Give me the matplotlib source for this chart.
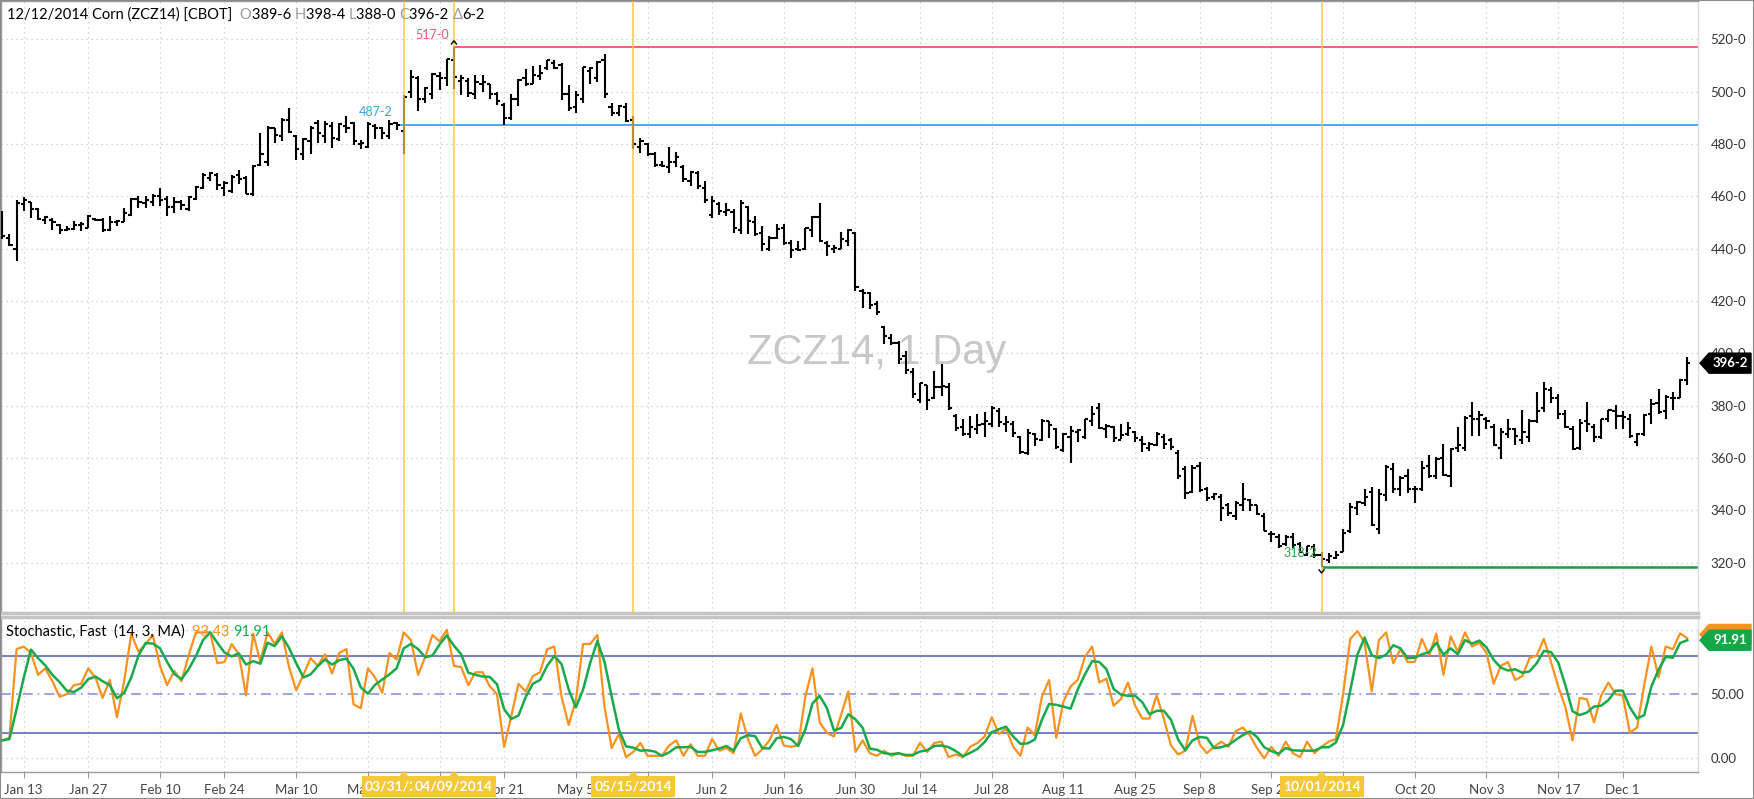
import numpy as np
import pandas as pd
import matplotlib
matplotlib.use('Agg')
import matplotlib.pyplot as plt
from matplotlib.patches import Polygon, Rectangle
from matplotlib.transforms import IdentityTransform

plt.rcParams['font.family'] = ['Lato', 'DejaVu Sans']

# ---------------- data ----------------
START, END = '2014-01-08', '2014-12-12'
HOLIDAYS = ['2014-01-20', '2014-02-17', '2014-04-18', '2014-05-26',
            '2014-07-04', '2014-09-01', '2014-11-27']

opens = [
    452, 444, 440, 457, 458, 455, 451, 451, 449, 447,
    447.5, 449, 448, 451.5, 451, 447, 450, 450, 453, 459,
    457.5, 458, 460, 459, 456, 458, 455, 459, 463, 467,
    468, 463, 462, 468, 467, 461, 472, 473, 486, 483,
    489, 483, 476, 481, 488, 483, 487, 482, 487, 488,
    480, 479, 487, 486, 483, 488, 485, 500, 505, 497,
    499, 506, 505, 512, 504, 504, 499, 503, 503, 499,
    495, 490, 497, 505, 503, 506, 509, 511, 510, 499,
    494, 497, 508, 505, 512, 494, 492, 494, 489, 479,
    480, 476, 472, 471, 473, 471, 466, 469, 463, 453,
    457, 454, 454, 447, 456, 450, 446, 440, 444, 448,
    442, 440, 440, 447, 452, 442, 440, 440, 443, 446,
    424, 423, 419, 410, 406, 404, 399, 393, 382, 388,
    383, 387, 387, 376, 372, 369, 371, 373, 373, 378,
    373, 373, 368, 362, 369, 367, 374, 371, 363, 368,
    370, 368, 374, 379, 371, 372, 367, 369, 370, 367,
    364, 365, 368, 367, 362, 356, 347, 357, 348, 345,
    345, 342, 338, 342, 344, 342, 338, 331, 330, 327,
    330, 327, 323, 326, 323, 321, 322, 324, 332, 341,
    343, 347, 333, 346, 356, 348, 353, 348, 348, 357,
    353, 360, 353, 364, 364, 376, 375, 375, 372, 364,
    369, 371, 367, 368, 374, 379, 386, 383, 377, 371,
    364, 374, 372, 368, 375, 378, 376, 375, 366, 369,
    377, 381, 378, 383, 383, 389.75]

highs = [
    454.25, 445.5, 458.75, 459.75, 458, 455.5, 452.5, 451.75, 449.25, 448.5,
    450.5, 450, 453, 451.75, 451.75, 452.5, 451, 455.5, 459.5, 460,
    460, 460.75, 463.25, 460, 459.75, 458.75, 460, 463.75, 468.75, 469.25,
    469, 465.75, 468.25, 470, 467.75, 472, 484, 487, 486, 490,
    493.75, 483.5, 482.25, 486.75, 489.25, 488.75, 488.25, 488, 490.5, 488.5,
    481.5, 488.25, 487.5, 486.5, 489, 488.5, 498.5, 508.25, 506, 501.75,
    507, 507.5, 512.5, 517, 506.5, 505, 506.25, 506.25, 503, 500,
    495.75, 499, 504.75, 508.75, 509.75, 510.25, 512.25, 512, 511, 502.5,
    500.25, 509.5, 509.5, 511.5, 514.5, 495.75, 494.75, 495.75, 490.75, 482.25,
    480.25, 477, 473.5, 479, 477, 472, 469.5, 469.5, 465.75, 460,
    458, 457.5, 455, 458.75, 456.25, 452.5, 448.5, 444.75, 449.25, 449.25,
    443.25, 442.75, 448, 452.5, 457.25, 442.75, 441.5, 446.5, 447.5, 446.5,
    424.5, 423.5, 420, 410.5, 407.25, 404.75, 400.75, 394.5, 388.75, 388,
    393.25, 395.75, 388.75, 376.75, 375, 376, 377, 377.5, 380, 379,
    376, 374, 368.5, 371.25, 369.5, 374.75, 374.25, 371.5, 369.5, 372.25,
    371, 374.75, 380, 381, 373, 372.25, 373, 373.75, 370.5, 368.25,
    366, 370, 369, 367.75, 363, 357, 357.5, 358.5, 348.75, 346.75,
    346.25, 343, 343.5, 350.5, 344.5, 342, 339, 332.25, 331, 330.5,
    331.25, 327.75, 326.5, 327, 324, 323.75, 324.5, 333, 343, 343.5,
    348, 348.75, 348, 357.5, 358.25, 353.25, 355.75, 349.5, 359, 361,
    360.25, 365.25, 364, 372, 376, 381.25, 378, 375.5, 373, 371.5,
    374.75, 371.5, 378.5, 374.75, 385.25, 389, 387.25, 384.5, 378.5, 372.25,
    374.75, 381.5, 373, 375, 378.5, 380.25, 378, 376.75, 369.5, 376.75,
    382.5, 386.25, 384, 385.25, 390.25, 398.5]

lows = [
    443.5, 441, 435.25, 454.25, 451.75, 451, 449.25, 447.25, 445.5, 446.75,
    447.25, 446.75, 448, 450.5, 446.25, 446.75, 448.5, 450, 452.5, 455.5,
    455.5, 456.25, 456.25, 452.5, 453.75, 454.75, 454.25, 458.75, 462.75, 465.75,
    462.25, 460, 461.25, 464.5, 460.75, 460.25, 471.75, 471.5, 480.5, 481,
    484.25, 474, 474, 476, 480.5, 480.5, 478.5, 481, 484.25, 479.5,
    478, 478.5, 482, 481.75, 482, 485.25, 476, 497.5, 492.5, 495.5,
    497, 500.5, 502.25, 501, 498.5, 498, 497, 500, 497, 494.75,
    487.25, 489, 494.5, 502.25, 502.75, 504.25, 508.25, 508.75, 496.75, 492.5,
    492, 495.75, 503, 503.75, 497.5, 490.5, 490.75, 488.5, 478.25, 476.5,
    475.5, 471.25, 471, 468.75, 471.25, 465.5, 463.75, 462.75, 457.5, 451.75,
    453, 452.5, 446, 445.5, 445.5, 444.75, 439, 439, 443.5, 441.5,
    436.5, 439, 439.5, 444.5, 442.5, 437, 438.5, 440, 441, 423.75,
    417.5, 417, 414.75, 403.5, 403, 395.75, 392.25, 383, 381, 378.5,
    382.5, 383.75, 378.5, 370.5, 368.5, 367.5, 369, 368, 372, 372,
    370, 368, 361.5, 361, 364.5, 366.5, 367.5, 363.5, 362.25, 358.25,
    366, 367.25, 372.25, 371.25, 367.5, 366.25, 367.25, 368.25, 366, 362.25,
    362.75, 364.5, 363.5, 363, 352, 344.25, 346.75, 347, 343.5, 344,
    336, 338, 336.5, 339.75, 339.75, 338.25, 332.25, 327.75, 325.75, 326.5,
    325.5, 323.75, 322.5, 322, 318.25, 320, 321.5, 324, 331.25, 338.25,
    341.75, 334, 331, 343.5, 346.75, 345.5, 346.75, 342.75, 347.5, 352.5,
    352, 353.25, 349, 362.25, 362.75, 368.25, 368.5, 371, 364.5, 359.5,
    367.75, 365, 365.25, 366, 373.25, 377.5, 381, 374.75, 371.5, 363,
    363, 370, 366.25, 367.25, 373.75, 371, 371, 367.75, 364.5, 368.5,
    373, 376.75, 375, 378.5, 382.75, 388]

closes = [
    445, 441.5, 457.5, 458.5, 455, 451.5, 452, 450, 447, 447.5,
    449, 449.5, 452.5, 451, 447, 450, 450.5, 453.5, 459, 457.75,
    458.5, 460.25, 458.5, 456, 457.75, 456.5, 459.75, 463.5, 468.25, 468.75,
    464.25, 465, 467.5, 466.5, 461, 471.5, 476.25, 486.25, 483.5, 489.25,
    484.5, 478, 482, 486, 484, 487.5, 482.25, 487.5, 486, 481,
    480.5, 487.75, 486.25, 484, 487.5, 487.25, 498, 505.5, 497, 501.25,
    506.75, 505.25, 512.5, 505.5, 505, 499.5, 503.5, 503.5, 499, 496.5,
    490, 497, 504.5, 503, 506.25, 507.25, 512, 509, 499.25, 493.75,
    498.5, 509.25, 509, 511.25, 499.25, 492, 494.5, 488.75, 480, 481,
    476.25, 472, 471.5, 473.25, 475, 466.5, 469.25, 463.75, 458.5, 458.25,
    454.25, 454.75, 447.75, 457.5, 450.5, 445.5, 441.75, 444.25, 447.5, 442,
    439.5, 439.5, 447.75, 452, 442.75, 441, 440.25, 443.5, 447.25, 425.25,
    423, 418.5, 415.75, 406.5, 404, 398, 393.5, 384.5, 388.5, 382,
    387, 387.5, 379.25, 371.5, 369, 372, 372.75, 374.25, 379.25, 373.75,
    373.75, 369.75, 362.25, 369.5, 367.25, 374.25, 372.5, 364.25, 369.25, 370.5,
    370.75, 374.75, 377, 371.5, 372.25, 367.5, 368.75, 371.5, 367.5, 365.25,
    365.25, 369.25, 365.25, 364.25, 353, 346.5, 356.25, 347.75, 344.75, 346.25,
    341, 339, 343, 344.25, 342, 338.75, 332.25, 331, 326.5, 330,
    326.75, 324, 326.25, 323, 321.25, 322.5, 323, 331.5, 341.25, 343.25,
    345, 334.25, 346.25, 356.75, 348, 352.25, 348.25, 348.25, 356.25, 353.25,
    359.75, 353.5, 363.5, 365, 375.25, 374.75, 376.5, 374, 365, 370,
    371.25, 368.5, 370, 374, 378, 386.25, 382.75, 377, 371.75, 363.5,
    373.25, 373, 368, 375, 378.25, 376, 375.75, 368.25, 369, 376.5,
    380.75, 377.75, 383.25, 383, 390, 396.25]

# Stochastic fast %K
pct_k = [
    14, 16, 85, 87, 82, 65, 70, 60, 48, 50,
    57, 58, 70, 63, 47, 61, 32, 60, 97, 83,
    89, 96, 72, 57, 68, 60, 80, 98, 98, 98,
    74, 75, 89, 81, 49, 97, 75, 98, 89, 98,
    71, 53, 65, 78, 72, 81, 66, 82, 85, 42,
    39, 70, 63, 51, 82, 77, 98, 92, 65, 79,
    96, 91, 100, 72, 71, 57, 67, 67, 56, 50,
    9, 33, 58, 52, 64, 67, 85, 87, 48, 26,
    45, 89, 89, 96, 40, 8, 19, 1, 5, 12,
    2, 2, 2, 10, 14, 2, 11, 2, 2, 15,
    6, 8, 4, 35, 15, 2, 7, 14, 26, 10,
    9, 10, 48, 70, 28, 20, 17, 34, 52, 5,
    14, 4, 2, 6, 2, 4, 2, 2, 12, 5,
    12, 13, 1, 3, 1, 9, 12, 17, 32, 19,
    23, 9, 2, 24, 18, 48, 61, 16, 44, 56,
    61, 79, 87, 59, 62, 41, 46, 59, 41, 31,
    31, 49, 31, 10, 3, 6, 33, 11, 4, 9,
    13, 9, 21, 24, 18, 8, 0, 9, 2, 13,
    4, 1, 13, 4, 9, 13, 15, 50, 93, 99,
    90, 52, 92, 98, 74, 85, 75, 75, 93, 80,
    97, 65, 95, 83, 98, 87, 90, 82, 58, 72,
    75, 61, 64, 78, 80, 93, 75, 56, 40, 14,
    47, 46, 28, 49, 59, 50, 49, 20, 24, 57,
    87, 63, 87, 85, 97.3, 93.43]

tick_dates = ['2014-01-13', '2014-01-27', '2014-02-10', '2014-02-24', '2014-03-10',
              '2014-03-24', '2014-04-07', '2014-04-21', '2014-05-05', '2014-05-19',
              '2014-06-02', '2014-06-16', '2014-06-30', '2014-07-14', '2014-07-28',
              '2014-08-11', '2014-08-25', '2014-09-08', '2014-09-22', '2014-10-06',
              '2014-10-20', '2014-11-03', '2014-11-17', '2014-12-01']
# labels fully covered by the event-date boxes in the reference are left blank
tick_labels = ['Jan 13', 'Jan 27', 'Feb 10', 'Feb 24', 'Mar 10', 'Mar 24', '',
               'Apr 21', 'May 5', '', 'Jun 2', 'Jun 16', 'Jun 30', 'Jul 14',
               'Jul 28', 'Aug 11', 'Aug 25', 'Sep 8', 'Sep 22', '', 'Oct 20',
               'Nov 3', 'Nov 17', 'Dec 1']
event_dates = ['2014-03-31', '2014-04-09', '2014-05-15', '2014-10-01']
event_labels = ['03/31/2014', '04/09/2014', '05/15/2014', '10/01/2014']
level_high = 517.0      # 04/09 high
level_ref = 487.25      # 03/28 close
level_low = 318.25      # 10/01 low
price_ticks = [320, 340, 360, 380, 400, 420, 440, 460, 480, 500, 520]
stoch_ticks = [0, 50, 100]

# ---------------- setup ----------------
days = pd.bdate_range(START, END)
days = days[~days.isin(pd.to_datetime(HOLIDAYS))]
n = len(days)
x = np.arange(n)


def pos(d):
    return int(days.get_indexer([pd.Timestamp(d)])[0])


def fmt_price(v):
    w = int(np.floor(v + 1e-9))
    e = int(round((v - w) * 8))
    return f"{w}-{e}"


ORANGE = '#f7921e'
GREEN = '#17a94b'
LEVEL = '#5d68bd'
GRID = '#c9c9c9'
YEL = '#f5c83a'

W, H = 1754, 799
fig = plt.figure(figsize=(W / 100, H / 100), dpi=100)
fig.patch.set_facecolor('white')
ax = fig.add_axes([1 / W, 1 - 613 / H, 1697 / W, 612 / H])
ax2 = fig.add_axes([1 / W, 1 - 772 / H, 1697 / W, 155 / H])
XL = (-0.17, 236.5)
for a in (ax, ax2):
    a.set_xlim(*XL)
    a.set_facecolor('white')
ax.set_ylim(300.8, 534.6)
ax2.set_ylim(-10.6, 110.0)

tick_pos = [pos(d) for d in tick_dates]

# grid
dot = (0, (1, 3))
for tp in tick_pos:
    ax.axvline(tp, color=GRID, lw=0.9, ls=dot, zorder=0)
    ax2.axvline(tp, color=GRID, lw=0.9, ls=dot, zorder=0)
for pt in price_ticks:
    ax.axhline(pt, color=GRID, lw=0.9, ls=dot, zorder=0)
for st in (0, 100):
    ax2.axhline(st, color=GRID, lw=0.9, ls=dot, zorder=0)

# watermark
ax.text(877 / W, 1 - 353 / H, 'ZCZ14, 1 Day', transform=fig.transFigure,
        fontsize=30, color='#c8c8c8', ha='center', va='center',
        family=['Liberation Sans', 'DejaVu Sans'], zorder=1)

# OHLC bars
lwb = 1.5
ax.vlines(x, lows, highs, color='black', lw=lwb, zorder=3)
ax.hlines(opens, x - 0.45, x, color='black', lw=lwb, zorder=3)
ax.hlines(closes, x, x + 0.45, color='black', lw=lwb, zorder=3)

# level lines
i_hi, i_ref, i_lo = pos('2014-04-09'), pos('2014-03-28'), pos('2014-10-01')
ax.hlines(level_high, i_hi, XL[1], color='#ef5470', lw=1.3, zorder=2)
ax.hlines(level_ref, i_ref, XL[1], color='#3aa4ee', lw=1.3, zorder=2)
ax.hlines(level_low, i_lo, XL[1], color='#1c9e3f', lw=1.8, zorder=2)
ax.text(i_hi - 0.7, 521.8, fmt_price(level_high), color='#ef5470', fontsize=9,
        ha='right', va='center', zorder=5)
ax.text(i_ref - 0.6, 492.2, fmt_price(level_ref), color='#3aa4ee', fontsize=9,
        ha='right', va='center', zorder=5)
ax.text(i_lo - 0.6, 323.8, fmt_price(level_low), color='#22a844', fontsize=9,
        ha='right', va='center', zorder=5)
ax.plot([i_hi - 0.35, i_hi, i_hi + 0.35], [518.2, 519.4, 518.2], color='black', lw=1.0, zorder=5)
ax.plot([i_lo - 0.35, i_lo, i_lo + 0.35], [317.3, 316.1, 317.3], color='black', lw=1.0, zorder=5)

# event lines
for ed in event_dates:
    ax.axvline(pos(ed), color=YEL, lw=1.4, alpha=0.75, zorder=4)

# stochastic
k = pd.Series(pct_k, dtype=float)
dline = k.rolling(3, min_periods=1).mean()
ax2.axhline(80, color=LEVEL, lw=1.2, zorder=1)
ax2.axhline(20, color=LEVEL, lw=1.2, zorder=1)
ax2.axhline(50, color='#8e96d8', lw=1.2, ls=(0, (6, 3, 1, 3)), zorder=1)
ax2.plot(x, k, color=ORANGE, lw=1.6, zorder=3)
ax2.plot(x, dline, color=GREEN, lw=1.8, zorder=4)

# spines / ticks
for a in (ax, ax2):
    for s in a.spines.values():
        s.set_color('#9a9a9a')
        s.set_linewidth(1.0)
    a.spines['right'].set_color('#dddddd')
ax.spines['bottom'].set_color('#c4c4c4')
ax.spines['bottom'].set_linewidth(2.5)
ax2.spines['top'].set_color('#c4c4c4')
ax2.spines['top'].set_linewidth(2.5)

ax.set_xticks([])
ax.yaxis.tick_right()
ax.set_yticks(price_ticks)
ax.set_yticklabels([fmt_price(v) for v in price_ticks])
ax.tick_params(axis='y', length=0, pad=9, labelsize=9.5, labelcolor='#333333')

ax2.yaxis.tick_right()
ax2.set_yticks(stoch_ticks)
ax2.set_yticklabels([f"{v:.2f}" for v in stoch_ticks])
ax2.tick_params(axis='y', length=0, pad=9, labelsize=9.5, labelcolor='#333333')
ax2.set_xticks(tick_pos)
ax2.set_xticklabels(tick_labels)
ax2.tick_params(axis='x', length=4, color='#9a9a9a', pad=5, labelsize=9.5,
                labelcolor='#444444')

# ---------------- text helpers ----------------
renderer = fig.canvas.get_renderer()


def seq_text(x_px, y_px, parts, size):
    xx = x_px
    for s, c in parts:
        t = fig.text(xx / W, 1 - y_px / H, s, color=c, fontsize=size, va='baseline',
                     ha='left', zorder=10)
        xx += t.get_window_extent(renderer=renderer).width


GR = '#9a9a9a'
delta = closes[-1] - closes[-2]
seq_text(7, 19, [(days[-1].strftime('%m/%d/%Y') + ' Corn (ZCZ14) [CBOT]  ', 'black'),
                 ('O', GR), (fmt_price(opens[-1]) + ' ', 'black'),
                 ('H', GR), (fmt_price(highs[-1]) + ' ', 'black'),
                 ('L', GR), (fmt_price(lows[-1]) + ' ', 'black'),
                 ('C', GR), (fmt_price(closes[-1]) + ' ', 'black'),
                 ('\u0394', GR), (fmt_price(delta), 'black')], 10.5)

seq_text(6, 636, [('Stochastic, Fast  (14, 3, MA)  ', 'black'),
                  (f"{pct_k[-1]:.2f} ", ORANGE),
                  (f"{dline.iloc[-1]:.2f}", GREEN)], 10.5)


# value tags at right edge
def tag(axis, yval, label, color):
    yc = axis.transData.transform((0, yval))[1]
    x0 = 1700
    pts = [(x0, yc), (x0 + 9, yc + 10), (1751, yc + 10), (1751, yc - 10), (x0 + 9, yc - 10)]
    fig.add_artist(Polygon(pts, closed=True, transform=IdentityTransform(),
                           facecolor=color, edgecolor=color, zorder=20))
    if label:
        fig.text((x0 + 30) / W, yc / H, label, color='white', fontsize=9.5,
                 fontweight='bold', ha='center', va='center', zorder=21)


tag(ax, closes[-1], fmt_price(closes[-1]), 'black')
tag(ax2, pct_k[-1] + 3, '', ORANGE)
tag(ax2, dline.iloc[-1], f"{dline.iloc[-1]:.2f}", '#15a64a')

# event date boxes on the time axis (later boxes drawn over earlier ones)
for j, (ed, lab) in enumerate(zip(event_dates, event_labels)):
    xc = ax2.transData.transform((pos(ed), 0))[0]
    bw = 84
    z = 30 + 3 * j
    fig.add_artist(Rectangle((xc - bw / 2, 2), bw, 21, transform=IdentityTransform(),
                             facecolor=YEL, edgecolor='none', zorder=z))
    fig.add_artist(Polygon([(xc - 5, 22.5), (xc, 28), (xc + 5, 22.5)], closed=True,
                           transform=IdentityTransform(), facecolor=YEL,
                           edgecolor='none', zorder=z))
    fig.text(xc / W, 12.5 / H, lab, color='white', fontsize=10, fontweight='bold',
             ha='center', va='center', zorder=z + 1)

# outer frame
fig.add_artist(Rectangle((0, 0), 1, 1, transform=fig.transFigure, fill=False,
                         edgecolor='#8a8a8a', lw=1.5, zorder=60))

fig.savefig('out.png', dpi=100)
